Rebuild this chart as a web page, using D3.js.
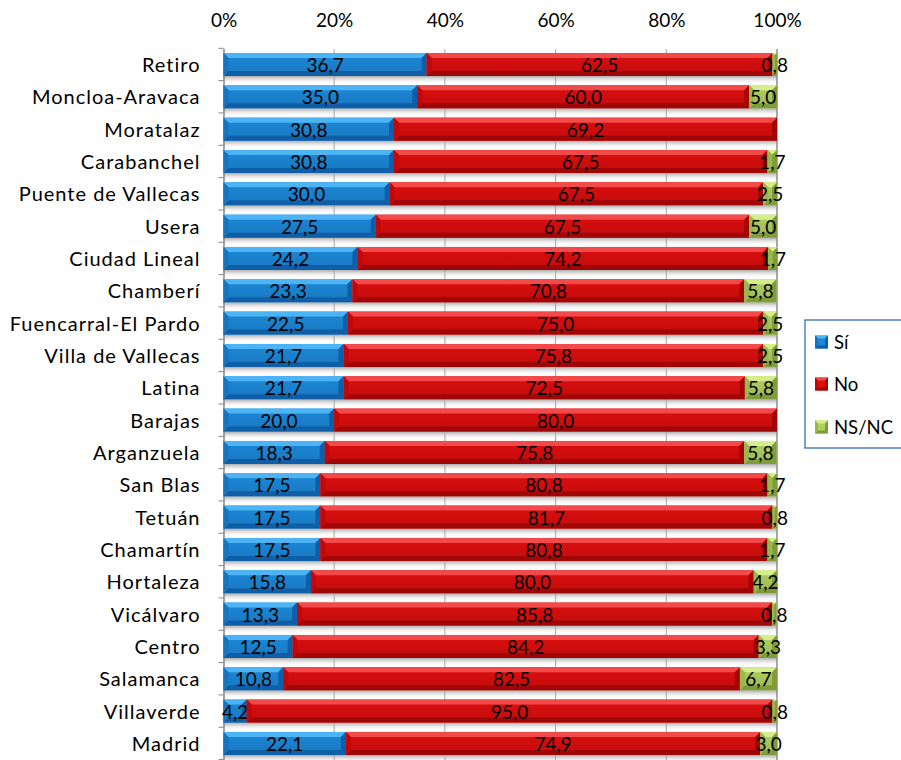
<!DOCTYPE html>
<html>
<head>
<meta charset="utf-8">
<script src="https://cdn.jsdelivr.net/npm/d3@7"></script>
<style>
  body { margin: 0; background: #fff; }
  svg text { font-family: Lato, "Open Sans", sans-serif; fill: #000; }
</style>
</head>
<body>
<div id="container"></div>
<script>
const WIDTH = 901;
const HEIGHT = 760;

// data
var districts = ["Retiro", "Moncloa-Aravaca", "Moratalaz", "Carabanchel", "Puente de Vallecas",
    "Usera", "Ciudad Lineal", "Chamberí", "Fuencarral-El Pardo", "Villa de Vallecas", "Latina",
    "Barajas", "Arganzuela", "San Blas", "Tetuán", "Chamartín", "Hortaleza", "Vicálvaro",
    "Centro", "Salamanca", "Villaverde", "Madrid"];
var si   = [36.7, 35.0, 30.8, 30.8, 30.0, 27.5, 24.2, 23.3, 22.5, 21.7, 21.7, 20.0, 18.3, 17.5, 17.5, 17.5, 15.8, 13.3, 12.5, 10.8, 4.2, 22.1];
var no   = [62.5, 60.0, 69.2, 67.5, 67.5, 67.5, 74.2, 70.8, 75.0, 75.8, 72.5, 80.0, 75.8, 80.8, 81.7, 80.8, 80.0, 85.8, 84.2, 82.5, 95.0, 74.9];
var nsnc = [0.8, 5.0, 0, 1.7, 2.5, 5.0, 1.7, 5.8, 2.5, 2.5, 5.8, 0, 5.8, 1.7, 0.8, 1.7, 4.2, 0.8, 3.3, 6.7, 0.8, 3.0];
var seriesNames = ["Sí", "No", "NS/NC"];
var tickValues = [0, 20, 40, 60, 80, 100];

var palette = {
    "Sí":    {light: "#4cb4f4", mid: "#1c88d8", dark: "#0f5fa8", side: "#1674c0"},
    "No":    {light: "#f24a4a", mid: "#dc0e0e", dark: "#a00606", side: "#c00808"},
    "NS/NC": {light: "#d4ee8c", mid: "#b0d060", dark: "#7e9c3a", side: "#98b84c"}
};

var rows = districts.map(function (d, i) {
    return {district: d, "Sí": si[i], "No": no[i], "NS/NC": nsnc[i]};
});

var XScale = d3.scaleLinear().domain([0, 100]).range([223.5, 777]);
var YScale = d3.scaleBand().domain(districts).range([48.3, 759.6]).padding(0);
var BAR_H = 23;
var BEVEL = 5;

var fmt = function (v) { return d3.format(".1f")(v).replace(".", ","); };

var barTop = function (d) {
    return YScale(d) + YScale.bandwidth() / 2 - BAR_H / 2;
};

var drawChart = function () {
    var svg = d3.select("#container").append("svg")
        .attr("width", WIDTH)
        .attr("height", HEIGHT);

    var defs = svg.append("defs");
    var sh = defs.append("linearGradient").attr("id", "shadow")
        .attr("x1", 0).attr("y1", 0).attr("x2", 0).attr("y2", 1);
    sh.append("stop").attr("offset", "0%").attr("stop-color", "#aaaaaa");
    sh.append("stop").attr("offset", "100%").attr("stop-color", "#ffffff").attr("stop-opacity", 0);

    Object.keys(palette).forEach(function (k, i) {
        var g = defs.append("linearGradient").attr("id", "body" + i)
            .attr("x1", 0).attr("y1", 0).attr("x2", 0).attr("y2", 1);
        g.append("stop").attr("offset", "0%").attr("stop-color", palette[k].mid);
        g.append("stop").attr("offset", "100%").attr("stop-color", d3.color(palette[k].mid).darker(0.35));
    });

    var stacked = d3.stack().keys(seriesNames)(rows);

    // shadows under bars
    svg.append("g").selectAll("rect")
        .data(rows)
        .join("rect")
        .attr("x", XScale(0))
        .attr("y", function (d) { return barTop(d.district) + BAR_H; })
        .attr("width", function (d) { return XScale(d["Sí"] + d["No"] + d["NS/NC"]) - XScale(0); })
        .attr("height", 8)
        .attr("fill", "url(#shadow)");

    // gridlines
    svg.append("g").selectAll("line")
        .data(tickValues.slice(1))
        .join("line")
        .attr("x1", function (d) { return XScale(d); })
        .attr("x2", function (d) { return XScale(d); })
        .attr("y1", 49)
        .attr("y2", 760)
        .attr("stroke", function (d) { return d === 100 ? "#8c8c8c" : "#a6a6a6"; })
        .attr("stroke-width", function (d) { return d === 100 ? 1.5 : 1; });

    // category axis
    var yAxis = svg.append("g")
        .attr("transform", "translate(" + XScale(0) + ",0)")
        .call(d3.axisLeft(YScale).tickSize(0).tickPadding(23));
    yAxis.select(".domain").attr("stroke", "#868686").attr("stroke-width", 1.5);
    yAxis.selectAll("text").attr("font-size", 20).attr("dy", "0.38em")
        .style("font-family", "Lato, sans-serif")
        .style("letter-spacing", "1px");
    yAxis.selectAll(".boundary")
        .data(districts.concat([null]))
        .join("line")
        .attr("class", "boundary")
        .attr("x1", -5).attr("x2", 0)
        .attr("y1", function (d) { return d === null ? 759.6 : YScale(d); })
        .attr("y2", function (d) { return d === null ? 759.6 : YScale(d); })
        .attr("stroke", "#868686");

    // value axis on top
    var xAxis = svg.append("g")
        .attr("transform", "translate(0,20)")
        .call(d3.axisTop(XScale).tickValues(tickValues).tickSize(0).tickPadding(0)
            .tickFormat(function (d) { return d + "%"; }));
    xAxis.select(".domain").remove();
    xAxis.selectAll("text").attr("font-size", 19).attr("dy", "0.35em")
        .style("font-family", "Lato, sans-serif");

    // bars with bevel
    var layers = svg.append("g").selectAll("g")
        .data(stacked)
        .join("g");

    layers.each(function (layer, li) {
        var col = palette[layer.key];
        var seg = d3.select(this).selectAll("g")
            .data(layer.filter(function (d) { return d[1] - d[0] > 0; }))
            .join("g");

        seg.each(function (d) {
            var x0 = XScale(d[0]), x1 = XScale(d[1]);
            var y0 = barTop(d.data.district), y1 = y0 + BAR_H;
            var b = Math.min(BEVEL, (x1 - x0) / 2);
            var g = d3.select(this);
            g.append("rect").attr("x", x0).attr("y", y0)
                .attr("width", x1 - x0).attr("height", BAR_H)
                .attr("fill", "url(#body" + li + ")");
            g.append("polygon").attr("fill", col.light)
                .attr("points", [[x0, y0], [x1, y0], [x1 - b, y0 + b], [x0 + b, y0 + b]].join(" "));
            g.append("polygon").attr("fill", col.dark)
                .attr("points", [[x0, y1], [x1, y1], [x1 - b, y1 - b], [x0 + b, y1 - b]].join(" "));
            g.append("polygon").attr("fill", col.side)
                .attr("points", [[x0, y0], [x0 + b, y0 + b], [x0 + b, y1 - b], [x0, y1]].join(" "));
            g.append("polygon").attr("fill", col.dark)
                .attr("points", [[x1, y0], [x1 - b, y0 + b], [x1 - b, y1 - b], [x1, y1]].join(" "));
        });

        d3.select(this).selectAll("text")
            .data(layer.filter(function (d) { return d[1] - d[0] > 0; }))
            .join("text")
            .attr("x", function (d) { return (XScale(d[0]) + XScale(d[1])) / 2; })
            .attr("y", function (d) { return barTop(d.data.district) + BAR_H / 2; })
            .attr("dy", "0.4em")
            .attr("text-anchor", "middle")
            .attr("font-size", 19)
            .text(function (d) { return fmt(d[1] - d[0]); });
    });

    // legend
    var legend = svg.append("g");
    legend.append("rect")
        .attr("x", 805).attr("y", 320)
        .attr("width", 130).attr("height", 128)
        .attr("fill", "#fff")
        .attr("stroke", "#4f81bd").attr("stroke-width", 1.5);

    var item = legend.selectAll("g")
        .data(seriesNames)
        .join("g")
        .attr("transform", function (d, i) { return "translate(815," + [342, 384, 427][i] + ")"; });

    item.each(function (k) {
        var col = palette[k];
        var g = d3.select(this);
        var s = 13, b = 3;
        g.append("rect").attr("x", 0).attr("y", -s / 2).attr("width", s).attr("height", s).attr("fill", col.mid);
        g.append("polygon").attr("fill", col.light)
            .attr("points", [[0, -s / 2], [s, -s / 2], [s - b, -s / 2 + b], [b, -s / 2 + b]].join(" "));
        g.append("polygon").attr("fill", col.dark)
            .attr("points", [[0, s / 2], [s, s / 2], [s - b, s / 2 - b], [b, s / 2 - b]].join(" "));
        g.append("polygon").attr("fill", col.side)
            .attr("points", [[0, -s / 2], [b, -s / 2 + b], [b, s / 2 - b], [0, s / 2]].join(" "));
        g.append("polygon").attr("fill", col.dark)
            .attr("points", [[s, -s / 2], [s - b, -s / 2 + b], [s - b, s / 2 - b], [s, s / 2]].join(" "));
    });

    item.append("text")
        .attr("x", 19)
        .attr("dy", "0.36em")
        .attr("font-size", 18.5)
        .text(function (d) { return d; });
};

window.onload = drawChart;
</script>
</body>
</html>
